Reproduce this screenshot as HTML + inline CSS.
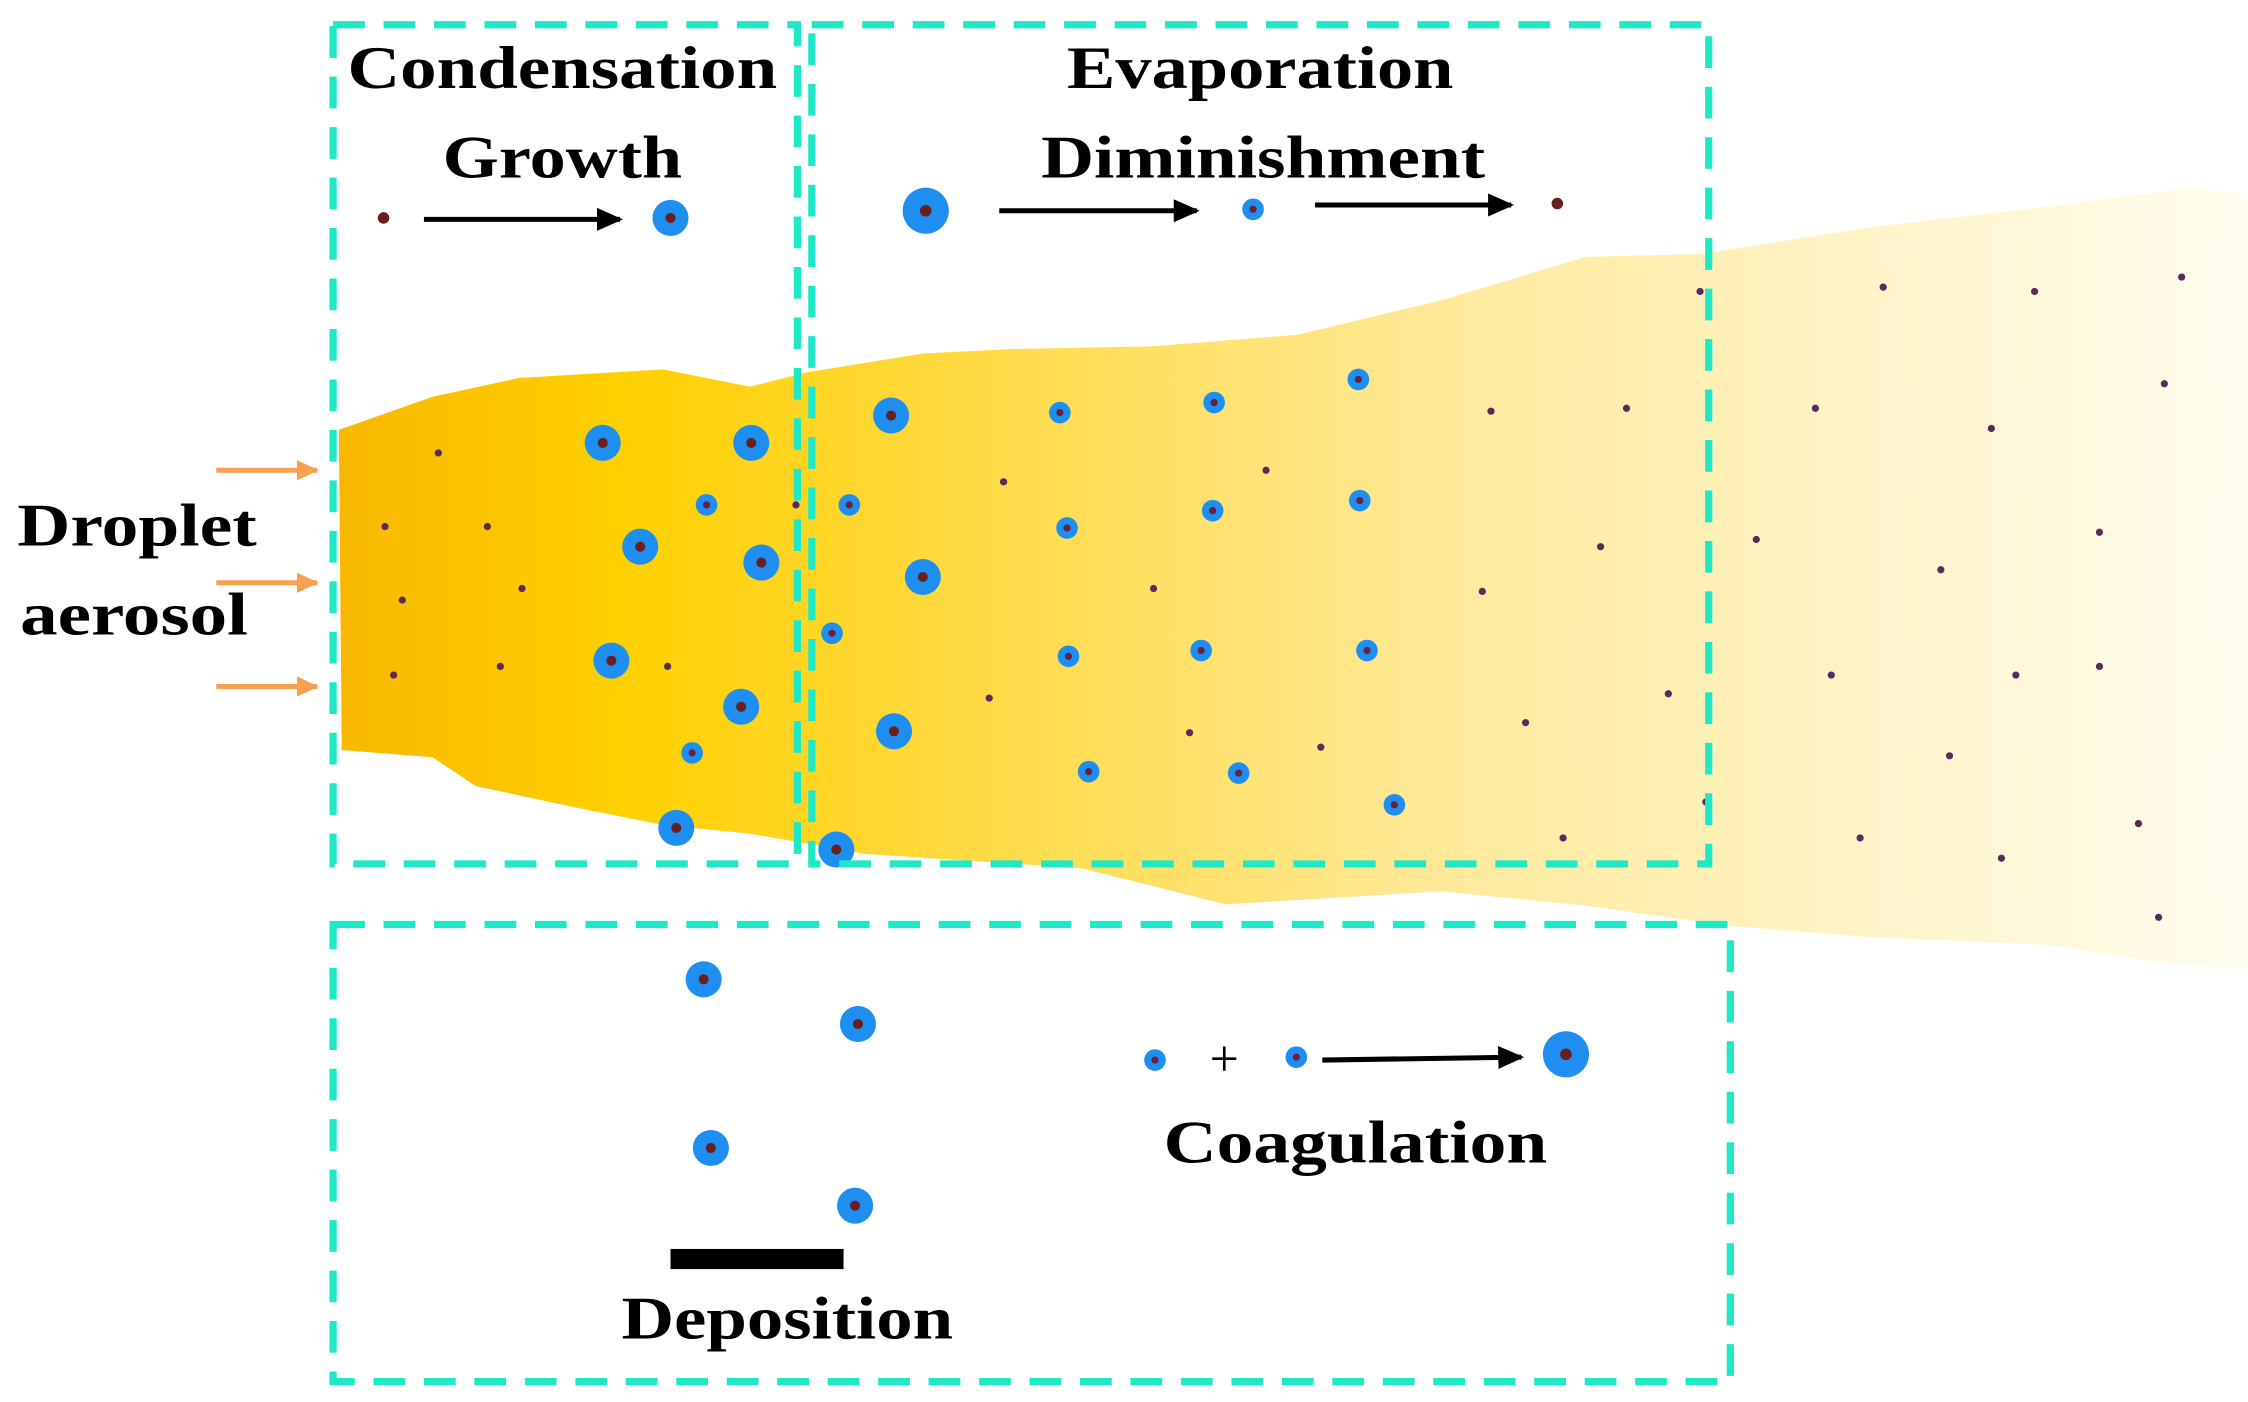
<!DOCTYPE html>
<html><head><meta charset="utf-8"><style>html,body{margin:0;padding:0;background:#fff}svg{display:block}</style></head><body>
<svg width="2248" height="1402" viewBox="0 0 1559 972" xmlns="http://www.w3.org/2000/svg" style="font-family:'Liberation Serif',serif;font-weight:bold">
<defs>
<linearGradient id="g" x1="235" x2="1559" y1="0" y2="0" gradientUnits="userSpaceOnUse">
<stop offset="0" stop-color="#f8b800"/><stop offset="0.15" stop-color="#ffd000"/><stop offset="0.3" stop-color="#ffd838"/><stop offset="0.6" stop-color="#ffeaa0"/><stop offset="1" stop-color="#fffdf0"/>
</linearGradient>
<g id="B"><circle r="12.5" fill="#1e8ff0"/><circle r="3.5" fill="#6a1e1e"/></g>
<g id="S"><circle r="7.5" fill="#1e8ff0"/><circle r="2.5" fill="#6a2040"/></g>
<marker id="a" markerWidth="20" markerHeight="16" refX="16" refY="8" orient="auto" markerUnits="userSpaceOnUse"><path d="M0,0 L18,8 L0,16z" fill="#000"/></marker>
<marker id="o" markerWidth="16" markerHeight="16" refX="14" refY="8" orient="auto" markerUnits="userSpaceOnUse"><path d="M0,1 L15,8 L0,15z" fill="#f6a050"/></marker>
</defs>
<polygon fill="url(#g)" points="235,298 300,275 360,262 460,256 520,268 560,258 640,245 700,242 800,240 900,232 1000,208 1100,178 1180,176 1300,157 1430,142 1520,130 1559,135 1559,672 1500,668 1420,655 1300,650 1200,642 1100,628 1000,618 850,627 750,602 600,592 520,578 460,572 400,560 330,545 300,525 237,520"/>
<g fill="#5a2a5a">
<circle cx="304" cy="314" r="2.5"/><circle cx="267" cy="365" r="2.5"/><circle cx="338" cy="365" r="2.5"/><circle cx="279" cy="416" r="2.5"/><circle cx="362" cy="408" r="2.5"/><circle cx="273" cy="468" r="2.5"/><circle cx="347" cy="462" r="2.5"/><circle cx="463" cy="462" r="2.5"/><circle cx="552" cy="350" r="2.5"/>
<circle cx="696" cy="334" r="2.5"/><circle cx="878" cy="326" r="2.5"/><circle cx="800" cy="408" r="2.5"/><circle cx="686" cy="484" r="2.5"/><circle cx="825" cy="508" r="2.5"/><circle cx="916" cy="518" r="2.5"/>
<circle cx="1034" cy="285" r="2.5"/><circle cx="1128" cy="283" r="2.5"/><circle cx="1110" cy="379" r="2.5"/><circle cx="1028" cy="410" r="2.5"/><circle cx="1058" cy="501" r="2.5"/><circle cx="1157" cy="481" r="2.5"/><circle cx="1084" cy="581" r="2.5"/><circle cx="1183" cy="556" r="2.5"/><circle cx="1179" cy="202" r="2.5"/>
<circle cx="1306" cy="199" r="2.5"/><circle cx="1411" cy="202" r="2.5"/><circle cx="1513" cy="192" r="2.5"/><circle cx="1259" cy="283" r="2.5"/><circle cx="1381" cy="297" r="2.5"/><circle cx="1501" cy="266" r="2.5"/><circle cx="1218" cy="374" r="2.5"/><circle cx="1346" cy="395" r="2.5"/><circle cx="1456" cy="369" r="2.5"/><circle cx="1270" cy="468" r="2.5"/><circle cx="1398" cy="468" r="2.5"/><circle cx="1456" cy="462" r="2.5"/><circle cx="1352" cy="524" r="2.5"/><circle cx="1290" cy="581" r="2.5"/><circle cx="1388" cy="595" r="2.5"/><circle cx="1483" cy="571" r="2.5"/><circle cx="1497" cy="636" r="2.5"/>
</g>
<use href="#B" x="418" y="307"/><use href="#B" x="521" y="307"/><use href="#S" x="490" y="350"/><use href="#B" x="444" y="379"/><use href="#B" x="528" y="390"/><use href="#B" x="424" y="458"/><use href="#B" x="514" y="490"/><use href="#S" x="480" y="522"/><use href="#B" x="469" y="574"/>
<use href="#B" x="618" y="288"/><use href="#S" x="589" y="350"/><use href="#B" x="640" y="400"/><use href="#S" x="577" y="439"/><use href="#B" x="620" y="507"/><use href="#B" x="580" y="589"/>
<use href="#S" x="735" y="286"/><use href="#S" x="842" y="279"/><use href="#S" x="942" y="263"/><use href="#S" x="740" y="366"/><use href="#S" x="841" y="354"/><use href="#S" x="943" y="347"/><use href="#S" x="741" y="455"/><use href="#S" x="833" y="451"/><use href="#S" x="948" y="451"/><use href="#S" x="755" y="535"/><use href="#S" x="859" y="536"/><use href="#S" x="967" y="558"/>
<circle cx="266" cy="151" r="4" fill="#6a1e1e"/><use href="#B" x="465" y="151"/>
<circle cx="642" cy="146" r="16" fill="#1e8ff0"/><circle cx="642" cy="146" r="4" fill="#6a1e1e"/>
<use href="#S" x="869" y="145"/><circle cx="1080" cy="141" r="4" fill="#6a1e1e"/>
<g stroke="#000" stroke-width="3.5" fill="none" marker-end="url(#a)">
<line x1="294" y1="152" x2="430" y2="152"/><line x1="693" y1="146" x2="830" y2="146"/><line x1="912" y1="142" x2="1048" y2="142"/><line x1="917" y1="735" x2="1055" y2="733"/>
</g>
<g stroke="#f6a050" stroke-width="3.5" fill="none" marker-end="url(#o)">
<line x1="150" y1="326" x2="220" y2="326"/><line x1="150" y1="404" x2="220" y2="404"/><line x1="150" y1="476" x2="220" y2="476"/>
</g>
<g fill="none" stroke="#1fe8c6" stroke-width="5" stroke-dasharray="22 13">
<rect x="231" y="17" width="322" height="582"/><rect x="563" y="17" width="622" height="582"/><rect x="231" y="641" width="969" height="317"/>
</g>
<use href="#B" x="488" y="679"/><use href="#B" x="595" y="710"/><use href="#B" x="493" y="796"/><use href="#B" x="593" y="836"/>
<use href="#S" x="801" y="735"/><use href="#S" x="899" y="733"/>
<circle cx="1086" cy="731" r="16" fill="#1e8ff0"/><circle cx="1086" cy="731" r="4" fill="#6a1e1e"/>
<rect x="465" y="866" width="120" height="14" fill="#000"/>
<g font-size="42" fill="#000" text-anchor="middle">
<text x="390" y="61" textLength="298" lengthAdjust="spacingAndGlyphs">Condensation</text>
<text x="390" y="123" textLength="166" lengthAdjust="spacingAndGlyphs">Growth</text>
<text x="874" y="61" textLength="268" lengthAdjust="spacingAndGlyphs">Evaporation</text>
<text x="876" y="123" textLength="308" lengthAdjust="spacingAndGlyphs">Diminishment</text>
<text x="95" y="378" textLength="166" lengthAdjust="spacingAndGlyphs">Droplet</text>
<text x="93" y="440" textLength="158" lengthAdjust="spacingAndGlyphs">aerosol</text>
<text x="940" y="806" textLength="266" lengthAdjust="spacingAndGlyphs">Coagulation</text>
<text x="546" y="928" textLength="230" lengthAdjust="spacingAndGlyphs">Deposition</text>
<text x="849" y="746" font-weight="normal" font-size="36">+</text>
</g>
</svg>
</body></html>
